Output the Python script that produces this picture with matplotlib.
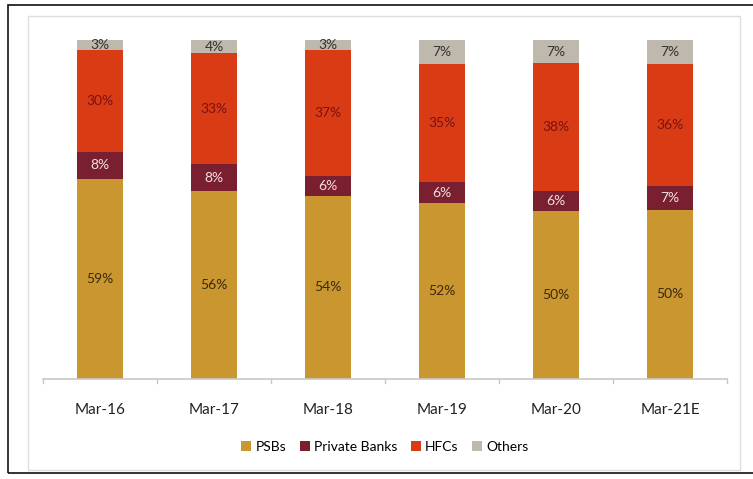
import numpy as np
import matplotlib
matplotlib.use("Agg")
import matplotlib.pyplot as plt
from matplotlib.patches import Rectangle

plt.rcParams['font.family'] = ['Lato', 'DejaVu Sans']

years = ["Mar-16", "Mar-17", "Mar-18", "Mar-19", "Mar-20", "Mar-21E"]
psbs = [59, 56, 54, 52, 50, 50]
private_banks = [8, 8, 6, 6, 6, 7]
hfcs = [30, 33, 37, 35, 38, 36]
others = [3, 4, 3, 7, 7, 7]

series = [("PSBs", psbs, "#C9962F", "#3a2a10"),
          ("Private Banks", private_banks, "#7A1F2F", "#f3dfe3"),
          ("HFCs", hfcs, "#D93B15", "#7a1212"),
          ("Others", others, "#BEB9AC", "#333333")]

totals = np.array(psbs) + np.array(private_banks) + np.array(hfcs) + np.array(others)

fig = plt.figure(figsize=(7.53, 4.79), dpi=100)
ax = fig.add_axes([43 / 753, 1 - 379 / 479, 684 / 753, 339 / 479])

x = np.arange(len(years))
bottom = np.zeros(len(years))
for name, vals, col, tcol in series:
    h = np.array(vals) / totals * 100
    ax.bar(x, h, 0.4, bottom=bottom, color=col, label=name)
    for xi, b, hi, v in zip(x, bottom, h, vals):
        ax.text(xi, b + hi / 2, f"{v}%", ha="center", va="center",
                fontsize=10, color=tcol)
    bottom += h

ax.set_xlim(-0.5, len(years) - 0.5)
ax.set_ylim(0, 100)
ax.set_yticks([])
ax.set_xticks(x)
ax.set_xticklabels(years, fontsize=11, color="#222222")
ax.tick_params(axis="x", length=0, pad=17)
for s in ["top", "right", "left"]:
    ax.spines[s].set_visible(False)
ax.spines["bottom"].set_color("#c8c8c8")
ax.spines["bottom"].set_linewidth(1.2)
# small ticks between categories
for b in np.arange(-0.5, len(years), 1.0):
    ax.plot([b, b], [0, -1.2], color="#c8c8c8", lw=1, clip_on=False)

ax.legend(loc="center", bbox_to_anchor=(0.5, -0.2), ncol=4, frameon=False,
          fontsize=10, handlelength=0.7, handleheight=0.7, handletextpad=0.3,
          columnspacing=1.0)

# frames
fig.add_artist(Rectangle((28 / 753, 1 - 470 / 479), 712 / 753, 454 / 479,
                         transform=fig.transFigure, fill=False,
                         edgecolor="#dedede", lw=1))
fig.add_artist(Rectangle((8 / 753, 1 - 473 / 479), 760 / 753, 468 / 479,
                         transform=fig.transFigure, fill=False,
                         edgecolor="#111111", lw=1.2))

fig.savefig("out.png", dpi=100)
